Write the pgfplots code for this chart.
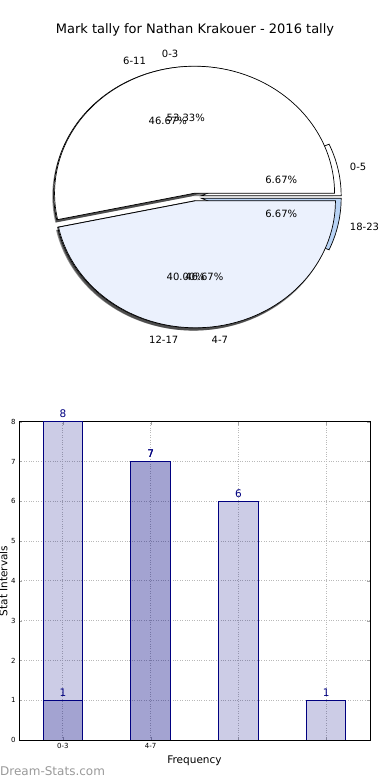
\documentclass[border=0pt]{standalone}
\usepackage{pgfplots}
\pgfplotsset{compat=1.18}
\usepackage{fontspec}
\setmainfont{DejaVu Sans}
\definecolor{navyb}{RGB}{0,0,128}
\definecolor{paleblue}{RGB}{235,241,253}
\definecolor{midblue}{RGB}{184,211,245}
\begin{document}
\begin{tikzpicture}
\path[use as bounding box] (0pt,0pt) rectangle (390pt,780pt);
% ---------------- Pie chart ----------------
% Pie 1: 0-3 = 53.33% (0..192 deg), 4-7 = 46.67% (192..360 deg)
% Pie 2: 0-5 = 6.67% (0..24), 6-11 = 46.67% (24..192), 12-17 = 40.00% (192..336), 18-23 = 6.67% (336..360)
\begin{axis}[at={(0pt,390pt)}, anchor=south west, scale only axis,
  width=390pt, height=390pt, hide axis, clip=false, no markers,
  xmin=-1.392857, xmax=1.392857, ymin=-1.51969, ymax=1.55118]
% shadows
\addplot[draw=none, fill=black, fill opacity=0.45, domain=24:192, samples=90]
  ({-0.0193+cos(x)}, {0.00653+sin(x)}) -- (axis cs:-0.0193,0.00653) -- cycle;
\addplot[draw=none, fill=black, fill opacity=0.45, domain=192:336, samples=90]
  ({-0.0142+cos(x)}, {-0.0518+sin(x)}) -- (axis cs:-0.0142,-0.0518) -- cycle;
\addplot[draw=none, fill=black, fill opacity=0.45, domain=0:192, samples=100]
  ({-0.0131+cos(x)}, {0.00784+sin(x)}) -- (axis cs:-0.0131,0.00784) -- cycle;
\addplot[draw=none, fill=black, fill opacity=0.45, domain=192:360, samples=100]
  ({-0.0069+cos(x)}, {-0.0518+sin(x)}) -- (axis cs:-0.0069,-0.0518) -- cycle;
% pie 2
\addplot[draw=black, line width=0.7pt, fill=white, domain=0:24, samples=30]
  ({0.0440+cos(x)}, {0.00935+sin(x)}) -- (axis cs:0.0440,0.00935) -- cycle;
\addplot[draw=black, line width=0.7pt, fill=white, domain=24:192, samples=90]
  ({-0.00927+cos(x)}, {0.02853+sin(x)}) -- (axis cs:-0.00927,0.02853) -- cycle;
\addplot[draw=black, line width=0.7pt, fill=paleblue, domain=192:336, samples=90]
  ({-0.00314+cos(x)}, {-0.02984+sin(x)}) -- (axis cs:-0.00314,-0.02984) -- cycle;
\addplot[draw=black, line width=0.7pt, fill=midblue, domain=336:360, samples=30]
  ({0.0440+cos(x)}, {-0.00935+sin(x)}) -- (axis cs:0.0440,-0.00935) -- cycle;
% pie 1
\addplot[draw=black, line width=0.7pt, fill=white, domain=0:192, samples=100]
  ({-0.00314+cos(x)}, {0.02984+sin(x)}) -- (axis cs:-0.00314,0.02984) -- cycle;
\addplot[draw=black, line width=0.7pt, fill=paleblue, domain=192:360, samples=100]
  ({0.00314+cos(x)}, {-0.02984+sin(x)}) -- (axis cs:0.00314,-0.02984) -- cycle;
% title
\node[font=\fontsize{13}{15}\selectfont] at (axis cs:0,1.315) {Mark tally for Nathan Krakouer - 2016 tally};
% labels
\begin{scope}[every node/.style={font=\fontsize{10}{12}\selectfont, inner sep=0pt}]
\node[anchor=east] at (axis cs:-0.1181,1.1238) {0-3};
\node[anchor=west] at (axis cs:0.1181,-1.1238) {4-7};
\node[anchor=west] at (axis cs:1.1053,0.2349) {0-5};
\node[anchor=east] at (axis cs:-0.3492,1.0747) {6-11};
\node[anchor=east] at (axis cs:-0.1181,-1.1238) {12-17};
\node[anchor=west] at (axis cs:1.1053,-0.2349) {18-23};
\node at (axis cs:-0.1947,0.5992) {46.67\%};
\node at (axis cs:-0.0659,0.6265) {53.33\%};
\node at (axis cs:0.6162,0.1310) {6.67\%};
\node at (axis cs:0.6162,-0.1310) {6.67\%};
\node at (axis cs:-0.0659,-0.6265) {40.00\%};
\node at (axis cs:0.0659,-0.6265) {46.67\%};
\end{scope}
\end{axis}
% ---------------- Bar chart ----------------
\begin{axis}[at={(19pt,40pt)}, anchor=south west, scale only axis,
  width=351pt, height=318.3pt,
  xmin=-0.5, xmax=3.5, ymin=0, ymax=8,
  xtick={0,1,2,3}, xticklabels={0-3,4-7,{},{}},
  ytick={0,1,2,3,4,5,6,7,8},
  grid=major, grid style={dotted, gray!55, line width=0.8pt},
  tick align=inside, major tick length=3pt, tick style={gray!70},
  ticklabel style={font=\fontsize{7}{8}\selectfont},
  /pgf/number format/assume math mode=true,
  axis line style={black, line width=0.8pt},
  xlabel={Frequency}, ylabel={Stat Intervals},
  label style={font=\fontsize{10.5}{12}\selectfont},
  xlabel style={at={(axis description cs:0.5,-0.066)}, anchor=center},
  ylabel style={at={(axis description cs:-0.044,0.5)}, anchor=center},
  nodes near coords,
  nodes near coords style={font=\fontsize{10.5}{12}\selectfont, text=navyb, text opacity=1, fill opacity=1},
]
\addplot[ybar, bar width=0.45, bar shift=0pt, fill=navyb, fill opacity=0.2, draw=navyb, line width=0.8pt]
  coordinates {(0,8) (1,7) (2,6) (3,1)};
\addplot[ybar, bar width=0.45, bar shift=0pt, fill=navyb, fill opacity=0.2, draw=navyb, line width=0.8pt]
  coordinates {(0,1) (1,7)};
\end{axis}
\node[anchor=base west, inner sep=0pt, text=black!40, font=\fontsize{12}{14}\selectfont] at (0pt,5pt) {Dream-Stats.com};
\end{tikzpicture}
\end{document}
